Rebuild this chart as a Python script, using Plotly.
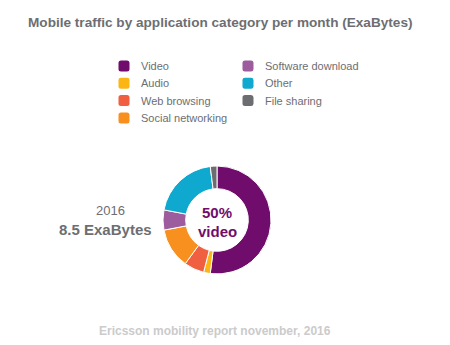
import plotly.graph_objects as go

categories = ["Video", "Audio", "Web browsing", "Social networking",
              "Software download", "Other", "File sharing"]
shares = [52, 2, 6, 12, 6, 20, 2]
colors = ["#700d6c", "#fbb616", "#f05f40", "#f7901e", "#9c5c9d", "#0fa8cf", "#6c6d70"]

W, H = 450, 345
def px(x): return x / W
def py(y): return 1 - y / H

fig = go.Figure()
fig.add_trace(go.Pie(
    labels=categories, values=shares, hole=0.58, sort=False,
    direction="clockwise", rotation=0,
    marker=dict(colors=colors, line=dict(color="white", width=1)),
    textinfo="none", showlegend=False,
    domain=dict(x=[px(163), px(271)], y=[py(274), py(166)]),
))

FONT = "Liberation Sans, Arial, sans-serif"
shapes = []
annotations = []

def conv(p):
    out = []
    for tok in p.split():
        if "," in tok:
            a, b = tok.split(",")
            out.append(f"{px(float(a)):.5f},{py(float(b)):.5f}")
        else:
            out.append(tok)
    return " ".join(out)

# legend: two columns
col_pos = [(124, 139), (248, 263)]
rows_per_col = 4
for i, (lab, col) in enumerate(zip(categories, colors)):
    c = 0 if i < rows_per_col else 1
    r = i if i < rows_per_col else i - rows_per_col
    sx, tx = col_pos[c]
    cy = 66 + r * 17.3
    s = 5.5
    rr = 2.5
    x0, x1, y0, y1 = sx - s, sx + s, cy - s, cy + s
    path = (f"M {x0+rr},{y0} L {x1-rr},{y0} Q {x1},{y0} {x1},{y0+rr} "
            f"L {x1},{y1-rr} Q {x1},{y1} {x1-rr},{y1} L {x0+rr},{y1} "
            f"Q {x0},{y1} {x0},{y1-rr} L {x0},{y0+rr} Q {x0},{y0} {x0+rr},{y0} Z")
    shapes.append(dict(type="path", xref="paper", yref="paper", path=conv(path),
                       fillcolor=col, line=dict(width=0)))
    annotations.append(dict(text=lab, x=px(tx), y=py(cy), xref="paper", yref="paper",
                            xanchor="left", yanchor="middle", showarrow=False,
                            font=dict(size=11, color="#6d6e71", family=FONT)))

annotations += [
    dict(text="<b>Mobile traffic by application category per month (ExaBytes)</b>",
         x=px(26), y=py(22), xref="paper", yref="paper", xanchor="left", yanchor="middle",
         showarrow=False, font=dict(size=13.6, color="#6d6e71", family=FONT)),
    dict(text="2016", x=px(110), y=py(210), xref="paper", yref="paper",
         xanchor="center", yanchor="middle", showarrow=False,
         font=dict(size=13, color="#6d6e71", family=FONT)),
    dict(text="<b>8.5 ExaBytes</b>", x=px(154), y=py(229), xref="paper", yref="paper",
         xanchor="right", yanchor="middle", showarrow=False,
         font=dict(size=15, color="#6d6e71", family=FONT)),
    dict(text="<b>50%</b>", x=px(217), y=py(212.5), xref="paper", yref="paper",
         xanchor="center", yanchor="middle", showarrow=False,
         font=dict(size=15, color="#700d6c", family=FONT)),
    dict(text="<b>video</b>", x=px(217), y=py(231), xref="paper", yref="paper",
         xanchor="center", yanchor="middle", showarrow=False,
         font=dict(size=15, color="#700d6c", family=FONT)),
    dict(text="<b>Ericsson mobility report november, 2016</b>", x=px(215), y=py(331),
         xref="paper", yref="paper", xanchor="center", yanchor="middle", showarrow=False,
         font=dict(size=12, color="#cbcbcb", family=FONT)),
]

fig.update_layout(width=W, height=H, margin=dict(l=0, r=0, t=0, b=0),
                  paper_bgcolor="white", plot_bgcolor="white",
                  shapes=shapes, annotations=annotations, showlegend=False)
fig.write_html("out.html")
